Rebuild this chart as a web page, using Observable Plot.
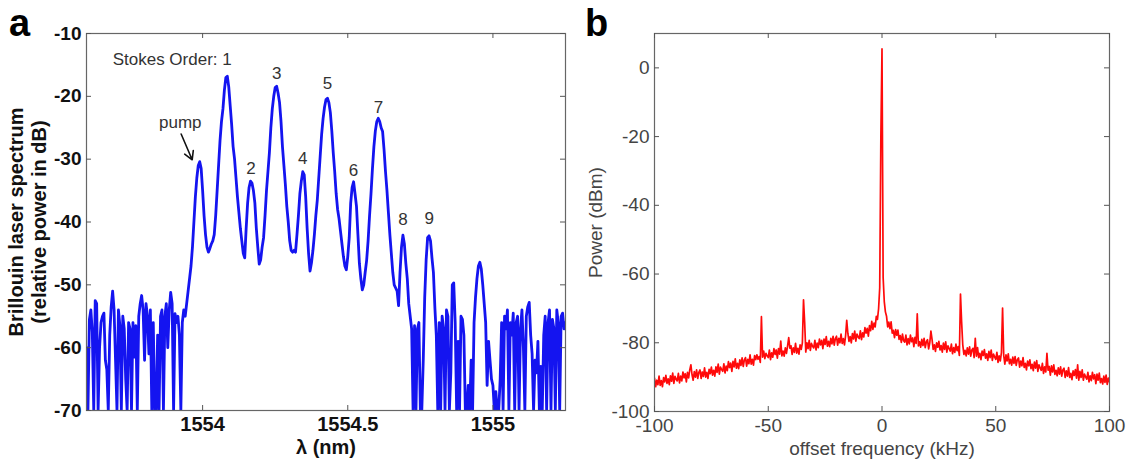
<!DOCTYPE html>
<html><head><meta charset="utf-8">
<script src="https://cdn.jsdelivr.net/npm/d3@7"></script>
<script src="https://cdn.jsdelivr.net/npm/@observablehq/plot@0.6"></script>
<style>
body{margin:0;background:#fff;}
#wrap{position:relative;width:1128px;height:459px;overflow:hidden;font-family:"Liberation Sans",Arial,sans-serif;background:#fff;}
.panel{position:absolute;top:0;}
.letter{position:absolute;font-weight:bold;font-size:38px;line-height:44px;color:#000;}
</style></head><body>
<div id="wrap">
<div id="pa" class="panel" style="left:0px"></div>
<div id="pb" class="panel" style="left:580px"></div>
<div class="letter" style="left:9px;top:1px">a</div>
<div class="letter" style="left:585px;top:1px">b</div>
</div>
<script>
// ---------- Panel a: Brillouin laser spectrum (dB), sampled every 0.005 nm ----------
const stepNm = 0.005;
const leftNoiseStartNm = 1553.600;
const leftNoiseDb = [
  -60, -70, -55.5, -54, -57.5, -70, -52.5, -53, -70, -60,
  -56, -55, -54.5, -62, -63.5, -70, -58, -53.5, -51, -54,
  -62, -70, -54, -56.5, -70, -55, -57, -65, -70, -56,
  -57, -70, -56, -61.5, -56.5, -70, -55, -53, -51.7, -54,
  -62, -53, -55, -61, -54, -70, -56, -70, -70, -58,
  -70, -55, -54, -70, -55, -53, -60, -54, -51.2, -53,
  -70, -54.6, -56, -55, -58, -70, -56, -54
];
const combStartNm = 1553.940;
const combDb = [
  -55, -53, -51, -49, -47, -44, -40, -36, -33, -31, -30.4, -31.5,
  -35, -39, -42, -44, -44.8, -44.2, -43.5, -43, -42, -39,
  -35, -31, -27, -24, -22, -19, -17, -16.8, -18.5, -21.5,
  -24.5, -28, -30, -33, -36, -38.5, -41, -43, -45, -45.7,
  -41, -37, -34.5, -33.5, -33.8, -35, -37, -41, -44, -46.7,
  -46, -44, -42.5, -39, -35, -32, -29, -25, -22, -20,
  -18.6, -18.4, -19.5, -21, -24, -28, -31, -34, -37.5, -40,
  -43, -44.5, -44.8, -44.5, -44.8, -42, -39, -35.5, -33.5, -32,
  -32.5, -36, -41, -45, -47.8, -46.5, -44.5, -42, -39, -36.5,
  -33, -29.5, -26, -23.5, -21.7, -20.5, -20.3, -21, -22.6, -25.5,
  -29, -32, -35.5, -38, -39.5, -41.5, -43.5, -45.5, -47, -47.6,
  -45.5, -42.5, -37, -34.5, -33.6, -35.5, -37.5, -42, -46.6, -49,
  -50.8, -50, -48, -46.1, -43, -39, -35.5, -31.5, -28, -25.5,
  -24, -23.5, -24, -25, -25.6, -28.5, -32, -35, -38.5, -42,
  -45, -48, -50, -50.5, -51, -53.3, -48, -44, -42.1, -43.5,
  -46.6, -49, -53, -55, -57
];
const rightNoiseStartNm = 1554.725;
const rightNoiseDb = [
  -70, -56.5, -70, -57, -56, -70, -70, -62, -52, -46,
  -42.5, -42.2, -43, -45.7, -48, -53.6, -58, -70, -56, -70,
  -55, -57, -70, -54, -55, -70, -64, -50, -49.7, -56,
  -70, -59, -70, -55, -55.5, -58, -70, -70, -66, -70,
  -62, -70, -56, -52, -49, -47, -46.4, -47.5, -50, -53,
  -56, -66, -59, -62, -65, -66, -70, -67, -70, -70,
  -65, -56, -70, -55, -57, -54, -70, -56, -58, -54.5,
  -70, -56, -55, -70, -57, -54, -60, -70, -55, -53.5,
  -52.8, -58, -61, -70, -62, -64, -59, -70, -63, -70,
  -58, -55, -70, -56, -54, -70, -55.5, -57, -70, -54,
  -56, -70, -55, -54.5, -57, -56
];
const xTicksA = [1554, 1554.5, 1555];
const yTicksA = [-70, -60, -50, -40, -30, -20, -10];

// Stokes order annotations (peak wavelength, label height in dB)
const stokesFirstText = ["Stokes Order: 1"];
const stokesFirstNm = [1554.083];
const stokesFirstDb = [-14.1];
const stokesText = ["2", "3", "4", "5", "6", "7", "8", "9"];
const stokesNm = [1554.167, 1554.255, 1554.345, 1554.430, 1554.520, 1554.606, 1554.690, 1554.781];
const stokesLabelDb = [-31.5, -16.3, -29.9, -18.0, -31.8, -21.8, -39.6, -39.4];
const pumpText = ["pump"];
const pumpLabelNm = [1553.923];
const pumpLabelDb = [-24.1];
const pumpArrowFrom = [1553.926, -26.0];
const pumpArrowTo = [1553.964, -30.1];

// ---------- Panel b: beat note spectrum, every 0.5 kHz from -100 kHz ----------
const freqStartKHz = -100;
const freqStepKHz = 0.5;
const powerDbm = [
  -90.3, -92.8, -90.9, -92.2, -89.7, -92.4, -91.0, -92.8, -90.1, -91.4, -89.5, -91.8, -90.5, -92.2, -89.6, -91.2, -88.8, -91.8, -89.8, -90.6,
  -91.1, -88.9, -91.7, -89.7, -91.1, -88.5, -90.2, -89.0, -91.4, -88.6, -90.2, -87.9, -86.4, -89.3, -90.9, -88.4, -90.0, -87.9, -90.4, -88.6,
  -87.9, -90.4, -88.5, -89.8, -87.3, -90.0, -88.6, -90.4, -87.7, -89.0, -87.1, -89.4, -88.0, -89.7, -87.0, -88.6, -86.2, -89.1, -87.1, -87.8,
  -88.3, -86.1, -88.8, -86.8, -88.1, -85.5, -87.2, -85.9, -88.3, -85.4, -87.0, -84.7, -87.4, -86.0, -87.5, -85.0, -86.6, -84.4, -86.9, -85.0,
  -84.3, -86.8, -84.8, -86.1, -83.5, -86.2, -84.8, -86.5, -83.7, -84.9, -83.5, -84.8, -84.0, -85.7, -72.4, -84.2, -82.4, -84.6, -83.1, -83.8,
  -84.3, -82.1, -84.9, -82.9, -84.2, -81.7, -83.4, -82.1, -84.5, -81.7, -83.3, -79.5, -83.8, -82.4, -83.9, -81.5, -83.1, -80.9, -78.5, -81.6,
  -80.9, -83.4, -81.5, -82.8, -80.2, -83.0, -81.6, -83.3, -80.6, -81.9, -80.0, -67.5, -74.0, -82.7, -80.0, -81.7, -79.3, -82.2, -80.2, -81.0,
  -81.5, -79.3, -82.1, -80.1, -81.4, -78.9, -80.6, -79.3, -81.7, -78.9, -80.5, -78.2, -81.0, -79.6, -81.1, -78.7, -80.3, -78.1, -80.7, -78.8,
  -78.1, -80.7, -78.7, -80.0, -77.5, -80.2, -78.8, -80.6, -77.9, -73.5, -77.3, -79.6, -78.2, -80.0, -77.3, -78.9, -76.6, -79.5, -77.5, -78.3,
  -78.8, -76.5, -79.1, -77.1, -78.3, -75.6, -77.2, -75.8, -78.1, -75.0, -76.5, -73.8, -76.1, -74.3, -75.4, -72.3, -73.2, -70.1,
  -64, -20, 5.5, -61, -68, -71,
  -72.3, -75.4, -74.0, -75.9, -73.9, -77.2, -76.4, -78.5, -76.2, -77.8, -76.3, -79.0, -77.9, -79.9, -77.5, -79.4,
  -79.8, -77.8, -80.6, -78.8, -80.3, -77.8, -79.7, -78.6, -81.1, -78.4, -80.2, -71.6, -80.9, -79.7, -81.3, -79.0, -80.8, -78.7, -81.4, -79.7,
  -79.1, -81.8, -80.0, -76.6, -79.0, -81.9, -80.6, -82.5, -80.0, -81.3, -79.6, -82.1, -80.8, -82.7, -80.1, -81.9, -79.7, -82.7, -80.9, -81.7,
  -82.4, -80.4, -83.2, -81.4, -82.8, -80.4, -82.3, -81.1, -83.7, -65.8, -74.0, -80.6, -83.4, -82.2, -83.8, -81.5, -83.3, -81.2, -83.9, -82.1,
  -81.6, -84.3, -78.7, -83.9, -81.4, -84.3, -83.1, -84.9, -82.4, -83.7, -82.0, -84.5, -83.2, -85.1, -82.5, -84.3, -82.1, -85.1, -83.3, -84.1,
  -84.8, -82.8, -85.7, -83.8, -85.3, -82.9, -69.9, -83.7, -86.2, -83.5, -85.3, -83.2, -86.1, -84.8, -86.5, -84.2, -86.0, -84.0, -86.6, -84.9,
  -84.4, -87.1, -85.3, -86.7, -84.3, -87.2, -86.0, -87.9, -85.3, -86.7, -85.0, -87.5, -86.3, -88.1, -85.6, -87.4, -85.2, -88.3, -86.4, -87.3,
  -88.0, -86.0, -88.9, -87.0, -88.5, -83.1, -88.0, -86.9, -89.4, -86.7, -88.5, -86.4, -89.2, -88.0, -89.6, -87.3, -89.1, -87.0, -89.7, -87.9,
  -87.4, -90.1, -88.2, -89.7, -87.2, -90.1, -88.9, -90.7, -88.2, -89.5, -87.8, -90.3, -86.4, -90.9, -88.3, -90.1, -87.9, -90.9, -89.1, -89.9,
  -90.6, -88.6, -91.4, -89.6, -91.0, -88.6, -90.5, -89.3, -91.9, -89.1, -90.9, -88.8, -91.6, -90.4, -92.0, -89.7, -91.5, -89.4, -92.1, -90.3, -91.4
];
const xTicksB = [-100, -50, 0, 50, 100];
const yTicksB = [-100, -80, -60, -40, -20, 0];

// ---------- build tables ----------
const seg = (start, vals) => vals.map((db, i) => ({nm: start + i * stepNm, db}));
const spectrum = [
  ...seg(leftNoiseStartNm, leftNoiseDb),
  ...seg(combStartNm, combDb),
  ...seg(rightNoiseStartNm, rightNoiseDb)
];
const stokes = stokesText.map((t, i) => ({t, nm: stokesNm[i], db: stokesLabelDb[i]}));
const beat = powerDbm.map((p, i) => ({f: freqStartKHz + i * freqStepKHz, p}));

const font = '"Liberation Sans", Arial, sans-serif';

// Panel a geometry
const WA = 580, HA = 459, mLA = 86, mRA = 15, mTA = 33, mBA = 49;
const plotWA = WA - mLA - mRA, plotHA = HA - mTA - mBA;
const tl = 5;

const plotA = Plot.plot({
  width: WA, height: HA,
  marginLeft: mLA, marginRight: mRA, marginTop: mTA, marginBottom: mBA,
  style: {fontFamily: font, fontSize: "20px", fontWeight: "bold", color: "#111", background: "white", overflow: "visible"},
  x: {domain: [1553.6, 1555.25]},
  y: {domain: [-70, -10]},
  marks: [
    Plot.lineY(spectrum, {x: "nm", y: "db", stroke: "#1414f0", strokeWidth: 2.8, clip: true}),
    Plot.frame({stroke: "#666", strokeWidth: 1.2}),
    Plot.tickX(xTicksA, {x: d => d, insetTop: plotHA - tl, stroke: "#555"}),
    Plot.tickX(xTicksA, {x: d => d, insetBottom: plotHA - tl, stroke: "#555"}),
    Plot.tickY(yTicksA, {y: d => d, insetRight: plotWA - tl, stroke: "#555"}),
    Plot.tickY(yTicksA, {y: d => d, insetLeft: plotWA - tl, stroke: "#555"}),
    Plot.axisX({ticks: xTicksA, tickSize: 0, tickPadding: 6, tickFormat: d => String(d), label: null, fontWeight: "bold", fontSize: 20}),
    Plot.axisY({ticks: yTicksA, tickSize: 0, tickPadding: 5, tickFormat: d => String(d), label: null, fontWeight: "bold", fontSize: 19}),
    Plot.text(stokes, {x: "nm", y: "db", text: "t", textAnchor: "middle", fontSize: 17, fontWeight: "normal", fill: "#333"}),
    Plot.text(stokesFirstText, {x: stokesFirstNm, y: stokesFirstDb, text: d => d, textAnchor: "end", dx: 5, fontSize: 17, fontWeight: "normal", fill: "#333"}),
    Plot.text(pumpText, {x: pumpLabelNm, y: pumpLabelDb, text: d => d, fontSize: 17, fontWeight: "normal", fill: "#333"}),
    Plot.arrow([0], {x1: pumpArrowFrom[0], y1: pumpArrowFrom[1], x2: pumpArrowTo[0], y2: pumpArrowTo[1], stroke: "#111", strokeWidth: 1.6, headLength: 9}),
    Plot.text(["λ (nm)"], {text: d => d, frameAnchor: "bottom", lineAnchor: "middle", textAnchor: "middle", dy: 37, fontSize: 20, fontWeight: "bold", fill: "#111"}),
    Plot.text(["Brillouin laser spectrum"], {text: d => d, frameAnchor: "left", textAnchor: "middle", lineAnchor: "middle", rotate: -90, dx: 16 - mLA, fontSize: 20, fontWeight: "bold", fill: "#111"}),
    Plot.text(["(relative power in dB)"], {text: d => d, frameAnchor: "left", textAnchor: "middle", lineAnchor: "middle", rotate: -90, dx: 39 - mLA, fontSize: 20, fontWeight: "bold", fill: "#111"})
  ]
});
document.getElementById("pa").appendChild(plotA);

// Panel b geometry
const WB = 548, HB = 459, mLB = 74, mRB = 19, mTB = 33, mBB = 48;
const plotWB = WB - mLB - mRB, plotHB = HB - mTB - mBB;

const plotB = Plot.plot({
  width: WB, height: HB,
  marginLeft: mLB, marginRight: mRB, marginTop: mTB, marginBottom: mBB,
  style: {fontFamily: font, fontSize: "19px", color: "#444", background: "white", overflow: "visible"},
  x: {domain: [-100, 100]},
  y: {domain: [-100, 10]},
  marks: [
    Plot.lineY(beat, {x: "f", y: "p", stroke: "#ff0a0a", strokeWidth: 1.7, clip: true}),
    Plot.frame({stroke: "#666", strokeWidth: 1.2}),
    Plot.tickX(xTicksB, {x: d => d, insetTop: plotHB - tl, stroke: "#555"}),
    Plot.tickX(xTicksB, {x: d => d, insetBottom: plotHB - tl, stroke: "#555"}),
    Plot.tickY(yTicksB, {y: d => d, insetRight: plotWB - tl, stroke: "#555"}),
    Plot.tickY(yTicksB, {y: d => d, insetLeft: plotWB - tl, stroke: "#555"}),
    Plot.axisX({ticks: xTicksB, tickSize: 0, tickPadding: 7, tickFormat: d => String(d), label: null, fill: "#444"}),
    Plot.axisY({ticks: yTicksB, tickSize: 0, tickPadding: 5, tickFormat: d => String(d), label: null, fill: "#444"}),
    Plot.text(["offset frequency (kHz)"], {text: d => d, frameAnchor: "bottom", lineAnchor: "middle", textAnchor: "middle", dy: 37, fontSize: 19, fill: "#444"}),
    Plot.text(["Power (dBm)"], {text: d => d, frameAnchor: "left", textAnchor: "middle", lineAnchor: "middle", rotate: -90, dx: 15 - mLB, fontSize: 19, fill: "#444"})
  ]
});
document.getElementById("pb").appendChild(plotB);
</script>
</body></html>
